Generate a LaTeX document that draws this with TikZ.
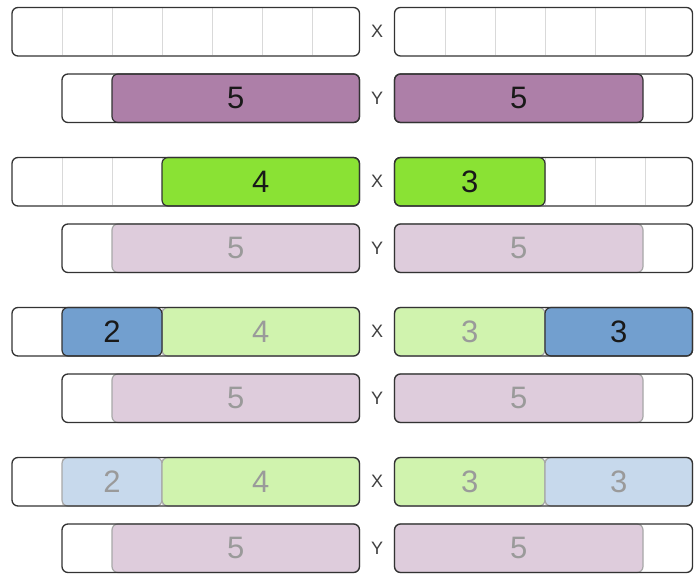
\documentclass[tikz,border=0pt]{standalone}
\usepackage{fontspec}
\setmainfont{Liberation Sans}
\definecolor{plum}{HTML}{AD7FA8}
\definecolor{cham}{HTML}{8AE234}
\definecolor{sky}{HTML}{729FCF}
\definecolor{plumL}{HTML}{DECCDC}
\definecolor{chamL}{HTML}{D0F3AE}
\definecolor{skyL}{HTML}{C7D9EC}
\definecolor{edge}{HTML}{333333}
\definecolor{fedge}{HTML}{A8A8A8}
\definecolor{ftext}{HTML}{9A9A9A}
\tikzset{
  outerfill/.style={fill=white, rounded corners=6pt},
  outerline/.style={draw=edge, line width=1.3pt, rounded corners=6pt},
  cellline/.style={draw=black!15, line width=0.8pt},
  activebar/.style={draw=edge, line width=1.2pt, rounded corners=6pt, fill=#1},
  fadedbar/.style={draw=fedge, line width=1.2pt, rounded corners=6pt, fill=#1},
  activedigit/.style={font=\fontsize{31}{31}\selectfont, text=black!90, inner sep=0pt},
  fadeddigit/.style={font=\fontsize{31}{31}\selectfont, text=ftext, inner sep=0pt},
  rowlabel/.style={font=\fontsize{18}{18}\selectfont, text=black!75, inner sep=0pt}
}
% #1 x-left, #2 x-right, #3 y-top, #4 bar style, #5 digit style, #6 text, #7 node name
\newcommand{\barpiece}[7]{%
  \path[#4] (#1,#3) rectangle (#2,#3+48.5);
  \node[#5] (#7) at ({(#1+#2)/2},#3+24.25) {#6};}
\begin{document}
\begin{tikzpicture}[x=1pt,y=-1pt]
\useasboundingbox[fill=white] (0,0) rectangle (696,577);
% backgrounds and grid
\foreach \g in {0,1,2,3}{
  \pgfmathsetmacro{\xt}{7.5+150*\g}
  \pgfmathsetmacro{\yt}{74+150*\g}
  \path[outerfill] (12,\xt) rectangle (359.5,\xt+48.5);
  \path[outerfill] (394.5,\xt) rectangle (692.5,\xt+48.5);
  \path[outerfill] (62,\yt) rectangle (359.5,\yt+48.5);
  \path[outerfill] (394.5,\yt) rectangle (692.5,\yt+48.5);
  \foreach \c in {62,112,162,212,262,312}{\draw[cellline] (\c,\xt+1) -- (\c,\xt+47.5);}
  \foreach \c in {445,495,545,595,645}{\draw[cellline] (\c,\xt+1) -- (\c,\xt+47.5);}
  \node[rowlabel] (lx\g) at (377,\xt+24.25) {X};
  \node[rowlabel] (ly\g) at (377,\yt+24.25) {Y};
}
% group 1
\barpiece{112}{359.5}{74}{activebar=plum}{activedigit}{5}{ya1}
\barpiece{394.5}{643}{74}{activebar=plum}{activedigit}{5}{yb1}
% group 2
\barpiece{162}{359.5}{157.5}{activebar=cham}{activedigit}{4}{xa2}
\barpiece{394.5}{545}{157.5}{activebar=cham}{activedigit}{3}{xb2}
\barpiece{112}{359.5}{224}{fadedbar=plumL}{fadeddigit}{5}{ya2}
\barpiece{394.5}{643}{224}{fadedbar=plumL}{fadeddigit}{5}{yb2}
% group 3
\barpiece{162}{359.5}{307.5}{fadedbar=chamL}{fadeddigit}{4}{xa3g}
\barpiece{62}{162}{307.5}{activebar=sky}{activedigit}{2}{xa3b}
\barpiece{394.5}{545}{307.5}{fadedbar=chamL}{fadeddigit}{3}{xb3g}
\barpiece{545}{692.5}{307.5}{activebar=sky}{activedigit}{3}{xb3b}
\barpiece{112}{359.5}{374}{fadedbar=plumL}{fadeddigit}{5}{ya3}
\barpiece{394.5}{643}{374}{fadedbar=plumL}{fadeddigit}{5}{yb3}
% group 4
\barpiece{62}{162}{457.5}{fadedbar=skyL}{fadeddigit}{2}{xa4b}
\barpiece{162}{359.5}{457.5}{fadedbar=chamL}{fadeddigit}{4}{xa4g}
\barpiece{394.5}{545}{457.5}{fadedbar=chamL}{fadeddigit}{3}{xb4g}
\barpiece{545}{692.5}{457.5}{fadedbar=skyL}{fadeddigit}{3}{xb4b}
\barpiece{112}{359.5}{524}{fadedbar=plumL}{fadeddigit}{5}{ya4}
\barpiece{394.5}{643}{524}{fadedbar=plumL}{fadeddigit}{5}{yb4}
% outlines on top
\foreach \g in {0,1,2,3}{
  \pgfmathsetmacro{\xt}{7.5+150*\g}
  \pgfmathsetmacro{\yt}{74+150*\g}
  \path[outerline] (12,\xt) rectangle (359.5,\xt+48.5);
  \path[outerline] (394.5,\xt) rectangle (692.5,\xt+48.5);
  \path[outerline] (62,\yt) rectangle (359.5,\yt+48.5);
  \path[outerline] (394.5,\yt) rectangle (692.5,\yt+48.5);
}
\end{tikzpicture}
\end{document}
